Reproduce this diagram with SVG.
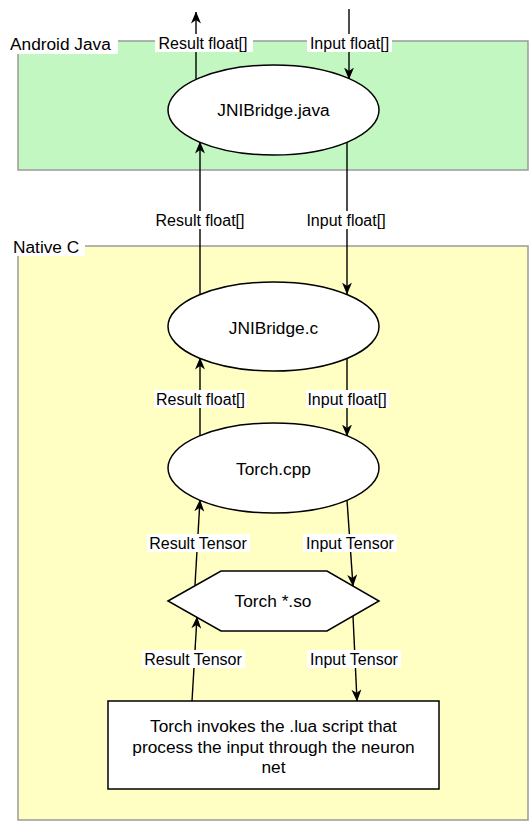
<svg xmlns="http://www.w3.org/2000/svg" width="530" height="822" viewBox="0 0 530 822">
<defs>
<style>
.grp{stroke:#9a9a9a;stroke-width:1.5}
.node{fill:#ffffff;stroke:#000;stroke-width:1.5}
.ntext{font-family:"Liberation Sans",Arial,sans-serif;font-size:17.3px;fill:#000;text-anchor:middle}
.gtext{font-family:"Liberation Sans",Arial,sans-serif;font-size:17.3px;fill:#000}
.ltext{font-family:"Liberation Sans",Arial,sans-serif;font-size:16px;fill:#000;text-anchor:middle}
.edge{stroke:#000;stroke-width:1.4;fill:none;marker-end:url(#arr)}
.lbg{fill:#ffffff}
</style>
<marker id="arr" viewBox="0 0 12 10" refX="11.5" refY="5" markerWidth="12" markerHeight="10" markerUnits="userSpaceOnUse" orient="auto">
<path d="M0,0 L12,5 L0,10 L3.5,5 Z" fill="#000"/>
</marker>
</defs>
<rect width="530" height="822" fill="#ffffff"/>
<g id="group-android">
<rect class="grp" x="18" y="41" width="510" height="129" fill="#c2f7c2"/>
<rect class="lbg" x="8" y="33" width="110" height="21"/>
<text class="gtext" x="10" y="49.5">Android Java</text>
</g>
<g id="group-native">
<rect class="grp" x="18" y="246" width="510" height="574" fill="#ffffc4"/>
<rect class="lbg" x="11" y="236" width="74" height="20"/>
<text class="gtext" x="13" y="252.5">Native C</text>
</g>
<g id="connectors">
<line class="edge" x1="196" y1="80" x2="196" y2="12"/>
<line class="edge" x1="349" y1="9" x2="349" y2="79"/>
<line class="edge" x1="200" y1="294" x2="200" y2="142"/>
<line class="edge" x1="347" y1="142" x2="347" y2="294"/>
<line class="edge" x1="200" y1="436" x2="200" y2="358"/>
<line class="edge" x1="347" y1="358" x2="347" y2="436"/>
<line class="edge" x1="195" y1="585" x2="200" y2="500"/>
<line class="edge" x1="347" y1="500" x2="353" y2="586"/>
<line class="edge" x1="192" y1="701" x2="197" y2="617"/>
<line class="edge" x1="353" y1="616" x2="357" y2="701"/>
<g id="edge-labels">
<rect class="lbg" x="155" y="34" width="98" height="18"/>
<text class="ltext" x="203" y="48.5">Result float[]</text>
<rect class="lbg" x="307" y="34" width="85" height="18"/>
<text class="ltext" x="349.5" y="48.5">Input float[]</text>
<rect class="lbg" x="154" y="211" width="93" height="18"/>
<text class="ltext" x="200" y="225.5">Result float[]</text>
<rect class="lbg" x="305" y="211" width="83" height="18"/>
<text class="ltext" x="346" y="225.5">Input float[]</text>
<rect class="lbg" x="154" y="390" width="93" height="18"/>
<text class="ltext" x="200.5" y="404.5">Result float[]</text>
<rect class="lbg" x="306" y="390" width="83" height="18"/>
<text class="ltext" x="347" y="404.5">Input float[]</text>
<rect class="lbg" x="147" y="534" width="103" height="18"/>
<text class="ltext" x="198" y="548.5">Result Tensor</text>
<rect class="lbg" x="303" y="534" width="94" height="18"/>
<text class="ltext" x="350" y="548.5">Input Tensor</text>
<rect class="lbg" x="142" y="650" width="103" height="18"/>
<text class="ltext" x="193" y="664.5">Result Tensor</text>
<rect class="lbg" x="307" y="650" width="94" height="18"/>
<text class="ltext" x="354" y="664.5">Input Tensor</text>
</g>
</g>
<g id="node-jnibridge-java">
<ellipse class="node" cx="273.5" cy="110" rx="105.5" ry="45"/>
<text class="ntext" x="273.5" y="116">JNIBridge.java</text>
</g>
<g id="node-jnibridge-c">
<ellipse class="node" cx="273.5" cy="326.5" rx="105.5" ry="44.5"/>
<text class="ntext" x="273.5" y="334">JNIBridge.c</text>
</g>
<g id="node-torch-cpp">
<ellipse class="node" cx="273.5" cy="468" rx="105.5" ry="45"/>
<text class="ntext" x="273.5" y="475">Torch.cpp</text>
</g>
<g id="node-torch-so">
<polygon class="node" points="168,601 221,571 327,571 379,601 327,631 221,631"/>
<text class="ntext" x="273" y="607">Torch *.so</text>
</g>
<g id="node-lua">
<rect class="node" x="108" y="701" width="331" height="88"/>
<text class="ntext" x="273.5" y="732">Torch invokes the .lua script that</text>
<text class="ntext" x="273.5" y="752.5">process the input through the neuron</text>
<text class="ntext" x="273.5" y="773">net</text>
</g>
</svg>
